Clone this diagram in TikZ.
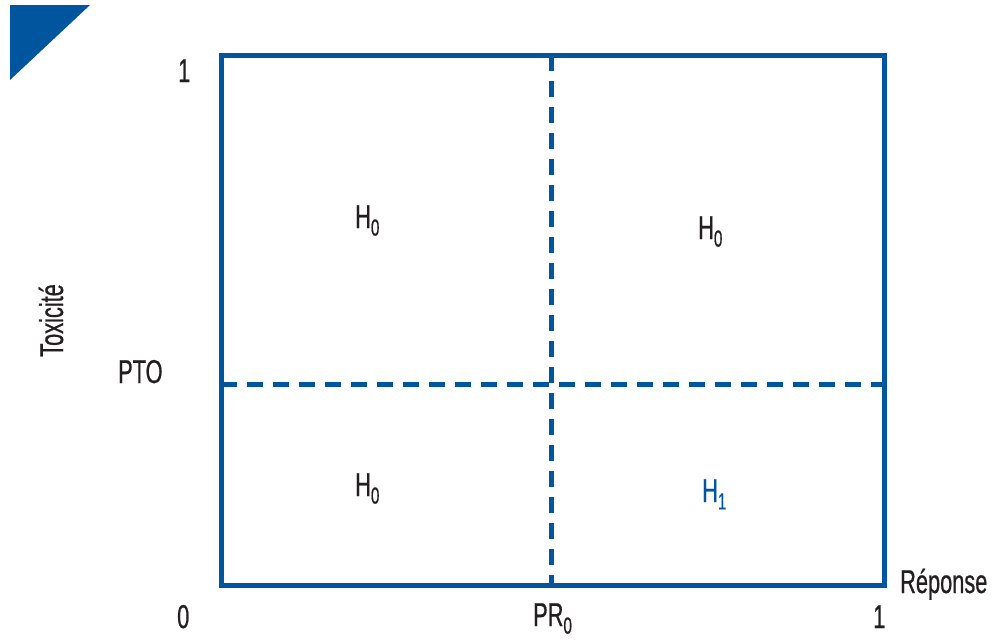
\documentclass[tikz,border=0pt]{standalone}
\usepackage{fontspec}
\setmainfont[FakeStretch=0.66,FakeBold=0.6]{Liberation Sans}
\usetikzlibrary{positioning}
\definecolor{frameBlue}{RGB}{0,86,158}
\definecolor{labelGray}{RGB}{35,31,32}

\begin{document}
\begin{tikzpicture}
[x=1pt,y=-1pt,%
  lineDecorate/.style={line width=5pt,draw=frameBlue},%
  dashDecorate/.style={line width=5pt,draw=frameBlue,dash pattern=on 16pt off 10pt},%
  labelDecorate/.style={text=labelGray,inner sep=0pt,anchor=base west,font=\fontsize{33}{36}\selectfont}]
\useasboundingbox (0,0) rectangle (997,640);
%% corner mark
\fill[frameBlue] (10,5) -- (90,5) -- (10,80) -- cycle;
%% frame and thresholds
\coordinate (bl) at (221,585);
\coordinate (tr) at (884,55);
\coordinate (prTop) at (551,55);
\coordinate (prBot) at (551,585);
\coordinate (ptoLeft) at (221,384);
\coordinate (ptoRight) at (884,384);
\draw[lineDecorate] (bl) rectangle (tr);
\draw[dashDecorate] (prTop) -- (prBot);
\draw[dashDecorate] (ptoLeft) -- (ptoRight);
%% axis labels
\foreach \nodename/\x/\y/\txt in {
  oneY/178/82/1, zeroX/177/628/0, prX/533/626/PR\textsubscript{0},
  oneX/873/628/1, repX/900/593/Réponse, ptoY/118/383/PTO}
{
  \node[labelDecorate] (\nodename) at (\x,\y) {\txt};
}
\node[labelDecorate,rotate=90] (toxY) at (63,357) {Toxicité};
%% hypotheses
\foreach \nodename/\x/\y/\txt in {
  hUL/355/228/H\textsubscript{0}, hUR/698/239/H\textsubscript{0},
  hLL/355/496/H\textsubscript{0}}
{
  \node[labelDecorate] (\nodename) at (\x,\y) {\txt};
}
\node[labelDecorate,text=frameBlue] (hLR) at (702,502) {H\textsubscript{1}};
\end{tikzpicture}
\end{document}
